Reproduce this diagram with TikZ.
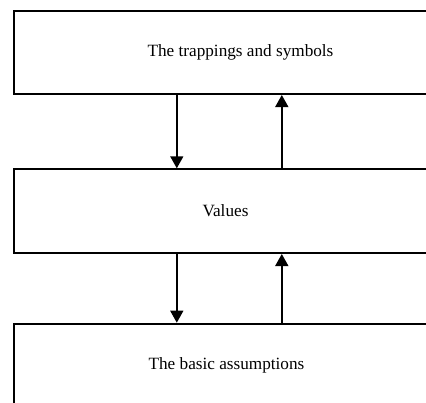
\documentclass[tikz,border=0pt]{standalone}
\usepackage{fontspec}
\setmainfont{Liberation Serif}
\usetikzlibrary{
  positioning,
  arrows.meta
}

\begin{document}
\begin{tikzpicture}[
    x=1pt, y=1pt,
    every node/.style={font=\fontsize{17.2}{20}\selectfont},
    layerbox/.style={
        rectangle,
        draw=black,
        line width=2pt,
        inner sep=0pt,
        anchor=north west
    },
    arrow/.style={-{Triangle[width=13pt,length=12pt]}, line width=1.5pt}
]
\useasboundingbox (0,0) rectangle (426,-402);
\clip (0,0) rectangle (426,-402);

% Layers
\node[layerbox, minimum width=453pt, minimum height=82.7pt] (trappings) at (13,-10.3) {The trappings and symbols};

\node[layerbox, minimum width=423pt, minimum height=83.7pt] (values) at (13,-168.3) {Values};

\node[layerbox, minimum width=425pt, minimum height=83pt] (assumptions) at (13,-322.7) {The basic assumptions};

% Arrow columns
\coordinate (downx) at (176.8,0);
\coordinate (upx) at (281.8,0);

% Arrows
\draw[arrow] (trappings.south -| downx) -- (values.north -| downx);
\draw[arrow] (values.north -| upx) -- (trappings.south -| upx);
\draw[arrow] (values.south -| downx) -- (assumptions.north -| downx);
\draw[arrow] (assumptions.north -| upx) -- (values.south -| upx);

\end{tikzpicture}
\end{document}
